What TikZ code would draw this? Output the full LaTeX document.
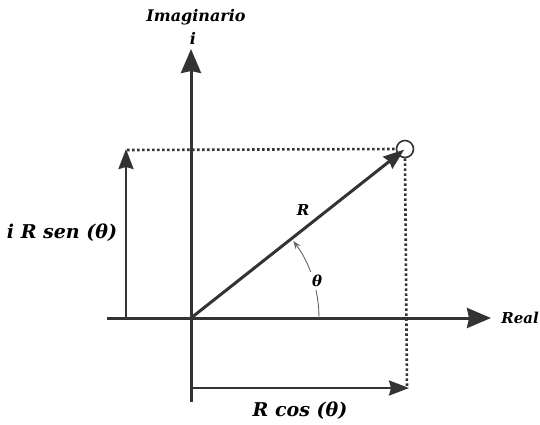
\documentclass[tikz,border=0pt]{standalone}
\usepackage{fontspec}
\setmainfont{DejaVu Serif}
\usetikzlibrary{arrows.meta}
\definecolor{ink}{HTML}{333333}
\tikzset{
  axis/.style={ink,line width=3pt,-{Stealth[length=24pt,width=20pt,inset=2pt]}},
  vec/.style={ink,line width=3pt,-{Stealth[length=21pt,width=15pt,inset=2pt]}},
  proj/.style={ink,line width=2.4pt,-{Stealth[length=20pt,width=15pt,inset=2pt]}},
  dots/.style={ink,line width=2.6pt,dash pattern=on 2.6pt off 2.4pt},
  lab/.style={text=black,inner sep=1pt},
  anglearc/.style={ink!75,line width=0.9pt,-{Stealth[length=8pt,width=6pt]}}
}
\newcommand{\labfont}[1]{\fontsize{#1}{#1}\selectfont\bfseries\itshape}
\begin{document}
\begin{tikzpicture}[x=1pt,y=-1pt]
\useasboundingbox (0,0) rectangle (540,424);
\coordinate (O) at (191,318);
\coordinate (xl) at (107,318);
\coordinate (xr) at (491,318);
\coordinate (yb) at (191,402);
\coordinate (yt) at (191,49);
\coordinate (ll) at (126,318);
\coordinate (lt) at (126,149);
\coordinate (dl) at (127,150);
\coordinate (db) at (407,388);
\coordinate (bl) at (191,388);
\coordinate (br) at (409,388);
\coordinate (a0) at (319,318);
\node[draw=ink,line width=1.6pt,circle,minimum size=17pt,inner sep=0pt] (P) at (405,149) {};
% axes
\draw[axis] (xl) -- (xr);
\draw[axis] (yb) -- (yt);
% dotted projections
\draw[dots] (dl) -- (P.west);
\draw[dots] (P.south) -- (db);
% projection arrows
\draw[proj] (ll) -- (lt);
\draw[proj] (bl) -- (br);
% vector
\draw[vec,shorten >=1pt] (O) -- (P.center);
% angle
\draw[anglearc] (a0) arc[start angle=0,end angle=-37,radius=128];
\node[lab,font=\labfont{15},fill=white,inner sep=3pt] (th) at (317,281) {θ};
% labels
\node[lab,font=\labfont{16}] (im) at (196,17) {Imaginario};
\node[lab,font=\labfont{16}] (ii) at (193,38) {i};
\node[lab,font=\labfont{15}] (re) at (520,318) {Real};
\node[lab,font=\labfont{15}] (rl) at (303,210) {R};
\node[lab,font=\labfont{19}] (sen) at (62,233) {i R sen (θ)};
\node[lab,font=\labfont{19}] (cos) at (300,411) {R cos (θ)};
\end{tikzpicture}
\end{document}
